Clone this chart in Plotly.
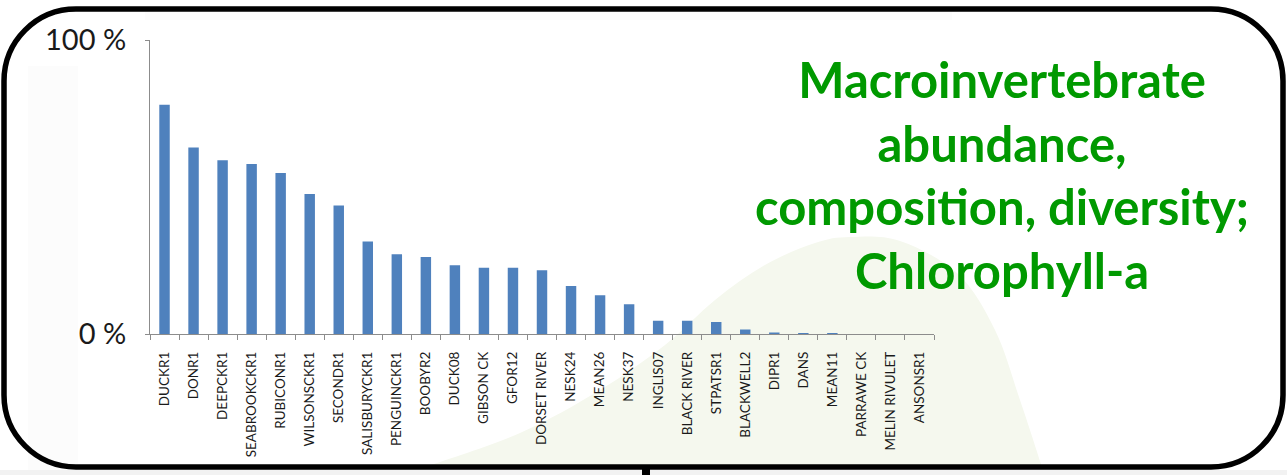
import plotly.graph_objects as go

# Share of sites (percent) for each monitoring site, sorted high to low
sites = [
    "DUCKR1", "DONR1", "DEEPCKR1", "SEABROOKCKR1", "RUBICONR1", "WILSONSCKR1",
    "SECONDR1", "SALISBURYCKR1", "PENGUINCKR1", "BOOBYR2", "DUCK08", "GIBSON CK",
    "GFOR12", "DORSET RIVER", "NESK24", "MEAN26", "NESK37", "INGLIS07",
    "BLACK RIVER", "STPATSR1", "BLACKWELL2", "DIPR1", "DANS", "MEAN11",
    "PARRAWE CK", "MELIN RIVULET", "ANSONSR1",
]
values = [
    78.0, 63.5, 59.1, 57.9, 54.8, 47.7,
    43.8, 31.5, 27.2, 26.3, 23.5, 22.6,
    22.6, 21.8, 16.4, 13.3, 10.2, 4.6,
    4.6, 4.2, 1.6, 0.6, 0.2, 0.2,
    0.0, 0.0, 0.0,
]
y_tick_vals = [0, 100]
y_tick_text = ["0 %", "100 %"]
title_lines = ["Macroinvertebrate", "abundance,", "composition, diversity;", "Chlorophyll-a"]

W, H = 1287, 475


def px(x, y):
    """Pixel position -> paper coordinates (margins are zero)."""
    return x / W, 1 - y / H


def rounded_rect(x0, y0, x1, y1, r):
    k = 0.5523 * r
    def p(x, y):
        a, b = px(x, y)
        return f"{a:.5f},{b:.5f}"
    return (
        f"M{p(x0 + r, y0)} L{p(x1 - r, y0)} "
        f"C{p(x1 - r + k, y0)} {p(x1, y0 + r - k)} {p(x1, y0 + r)} "
        f"L{p(x1, y1 - r)} "
        f"C{p(x1, y1 - r + k)} {p(x1 - r + k, y1)} {p(x1 - r, y1)} "
        f"L{p(x0 + r, y1)} "
        f"C{p(x0 + r - k, y1)} {p(x0, y1 - r + k)} {p(x0, y1 - r)} "
        f"L{p(x0, y0 + r)} "
        f"C{p(x0, y0 + r - k)} {p(x0 + r - k, y0)} {p(x0 + r, y0)} Z"
    )


# soft green hill behind the chart (pixel outline)
hill = [
    (425, 467), (520, 433), (600, 390), (665, 345), (715, 300), (765, 265),
    (815, 243), (850, 237), (900, 241), (958, 274), (995, 330), (1020, 400),
    (1042, 467),
]


def spline_path(points):
    pts = [px(x, y) for x, y in points]
    s = f"M{pts[0][0]:.5f},{pts[0][1]:.5f}"
    # Catmull-Rom to cubic Bezier
    for i in range(len(pts) - 1):
        p0 = pts[i - 1] if i > 0 else pts[i]
        p1 = pts[i]
        p2 = pts[i + 1]
        p3 = pts[i + 2] if i + 2 < len(pts) else pts[i + 1]
        c1 = (p1[0] + (p2[0] - p0[0]) / 6, p1[1] + (p2[1] - p0[1]) / 6)
        c2 = (p2[0] - (p3[0] - p1[0]) / 6, p2[1] - (p3[1] - p1[1]) / 6)
        s += f" C{c1[0]:.5f},{c1[1]:.5f} {c2[0]:.5f},{c2[1]:.5f} {p2[0]:.5f},{p2[1]:.5f}"
    return s + " Z"


fig = go.Figure()
fig.add_trace(go.Bar(
    x=sites, y=values,
    marker=dict(color="#4f81bd", line=dict(width=0)),
    hoverinfo="x+y",
))

shapes = [
    # faint textured strips
    dict(type="rect", xref="paper", yref="paper",
         x0=px(28, 0)[0], x1=px(78, 0)[0], y0=px(0, 475)[1], y1=px(0, 66)[1],
         fillcolor="rgba(0,0,0,0.012)", line=dict(width=0), layer="below"),
    dict(type="rect", xref="paper", yref="paper",
         x0=px(145, 0)[0], x1=px(952, 0)[0], y0=px(0, 20)[1], y1=px(0, 12)[1],
         fillcolor="rgba(0,0,0,0.012)", line=dict(width=0), layer="below"),
    dict(type="path", xref="paper", yref="paper", path=spline_path(hill),
         fillcolor="#f5f8ee", line=dict(width=0), layer="below"),
    # thin grey strip under the frame
    dict(type="rect", xref="paper", yref="paper",
         x0=0, x1=1, y0=0, y1=px(0, 470)[1],
         fillcolor="#f2f2f2", line=dict(width=0), layer="below"),
    # outer frame
    dict(type="path", xref="paper", yref="paper",
         path=rounded_rect(4, 9, 1283, 467, 72),
         line=dict(color="black", width=5.5), fillcolor="rgba(0,0,0,0)", layer="above"),
    dict(type="rect", xref="paper", yref="paper",
         x0=px(642, 0)[0], x1=px(650, 0)[0], y0=0, y1=px(0, 467)[1],
         fillcolor="black", line=dict(width=0), layer="above"),
]

fig.add_annotation(
    x=px(1002, 0)[0], y=px(0, 48)[1], xref="paper", yref="paper",
    xanchor="center", yanchor="top", align="center", showarrow=False,
    text="<br>".join(title_lines),
    font=dict(family="Lato", size=49, color="#009900", weight="bold"),
)

fig.update_layout(
    width=W, height=H, template="none",
    margin=dict(l=0, r=0, t=0, b=0, pad=0),
    paper_bgcolor="white", plot_bgcolor="rgba(0,0,0,0)",
    showlegend=False, bargap=0.64,
    shapes=shapes,
    xaxis=dict(
        domain=[150 / W, 934 / W], type="category", automargin=False,
        showline=True, linecolor="#8c8c8c", linewidth=1,
        ticks="outside", ticklen=5, tickcolor="#8c8c8c", tickson="boundaries",
        tickangle=-90, showgrid=False, zeroline=False,
        tickfont=dict(family="Lato", size=13.5, color="#1a1a1a"),
        ticklabelstandoff=11,
    ),
    yaxis=dict(
        domain=[1 - 334.3 / H, 1 - 40 / H], range=[0, 100], automargin=False,
        showline=True, linecolor="#8c8c8c", linewidth=1,
        ticks="outside", ticklen=4, tickcolor="#8c8c8c",
        tickvals=y_tick_vals, ticktext=y_tick_text,
        showgrid=False, zeroline=False,
        tickfont=dict(family="Lato", size=29, color="#1a1a1a"),
        ticklabelstandoff=13,
    ),
)

fig.write_html("out.html")
